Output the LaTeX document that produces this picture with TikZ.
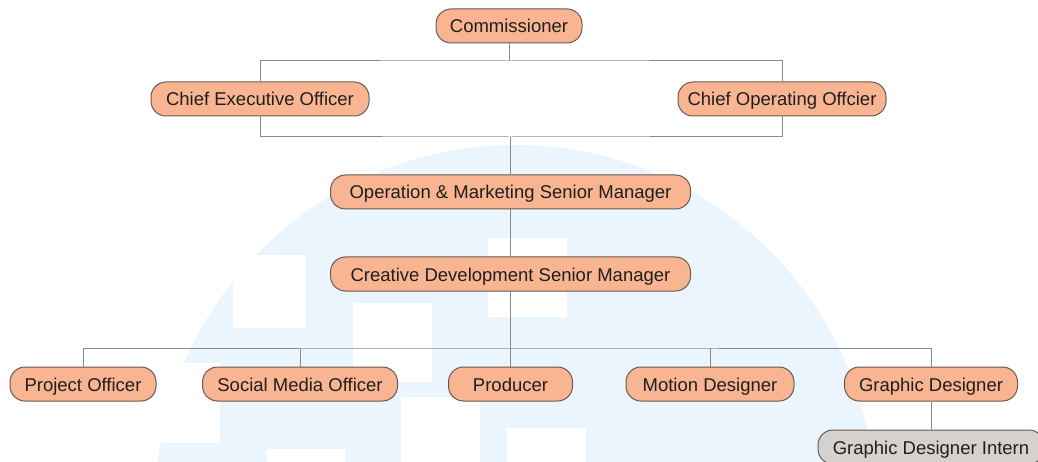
\documentclass[tikz,border=0pt]{standalone}
\usepackage{fontspec}
\setmainfont{Liberation Sans}
\definecolor{wm}{HTML}{EBF5FD}
\definecolor{nodefill}{HTML}{F9B591}
\definecolor{nodeline}{HTML}{6A5A52}
\definecolor{internfill}{HTML}{D5D1CF}
\definecolor{conncol}{HTML}{8A8A8A}
\begin{document}
\begin{tikzpicture}[x=1pt,y=-1pt,
  box/.style={draw=nodeline, line width=1pt, fill=nodefill, rounded corners=15pt,
    minimum height=34pt, inner sep=0pt, text height=16pt, text depth=2pt,
    font=\fontsize{18.5}{22}\selectfont, text=black!88},
  intern/.style={box, fill=internfill},
  conn/.style={draw=conncol, line width=1pt}]
\useasboundingbox (0,0) rectangle (1038,462);
\clip (0,0) rectangle (1038,462);
% watermark
\fill[wm] (515,505) circle[radius=360pt];
\fill[white] (233,255) rectangle (306,328);
\fill[white] (353,303) rectangle (432,382);
\fill[white] (488,238) rectangle (567,317);
\fill[white] (401,397) rectangle (480,462);
\fill[white] (507,428) rectangle (586,462);
\fill[white] (267,449) rectangle (345,462);
\fill[white] (140,363) rectangle (220,443);
% nodes
\node[box, minimum width=146pt] (comm) at (509,26) {Commissioner};
\node[box, minimum width=218pt] (ceo) at (260,99) {Chief Executive Officer};
\node[box, minimum width=208pt] (coo) at (782,99) {Chief Operating Offcier};
\node[box, minimum width=360pt] (opm) at (510.5,192) {Operation \& Marketing Senior Manager};
\node[box, minimum width=360pt] (cdm) at (510.5,274) {Creative Development Senior Manager};
\node[box, minimum width=146pt] (po) at (83,384) {Project Officer};
\node[box, minimum width=195pt] (smo) at (300,384) {Social Media Officer};
\node[box, minimum width=124pt] (prod) at (510.5,384) {Producer};
\node[box, minimum width=168pt] (md) at (710,384) {Motion Designer};
\node[box, minimum width=173pt] (gd) at (931,384) {Graphic Designer};
\node[intern, minimum width=226pt] (gdi) at (931,447) {Graphic Designer Intern};
% junctions
\coordinate (bus1) at (509,61);
\coordinate (bus2) at (510.5,137);
\coordinate (bus3) at (510.5,348);
% connectors
\draw[conn] (comm.south) -- (bus1);
\draw[conn] (ceo.north) |- (bus1) -| (coo.north);
\draw[conn] (ceo.south) |- (bus2) -| (coo.south);
\draw[conn] (bus2) -- (opm.north);
\draw[conn] (opm.south) -- (cdm.north);
\draw[conn] (cdm.south) -- (prod.north);
\draw[conn] (po.north) |- (bus3) -| (gd.north);
\draw[conn] (smo.north) -- (smo.north |- bus3);
\draw[conn] (md.north) -- (md.north |- bus3);
\draw[conn] (gd.south) -- (gdi.north);
\end{tikzpicture}
\end{document}
